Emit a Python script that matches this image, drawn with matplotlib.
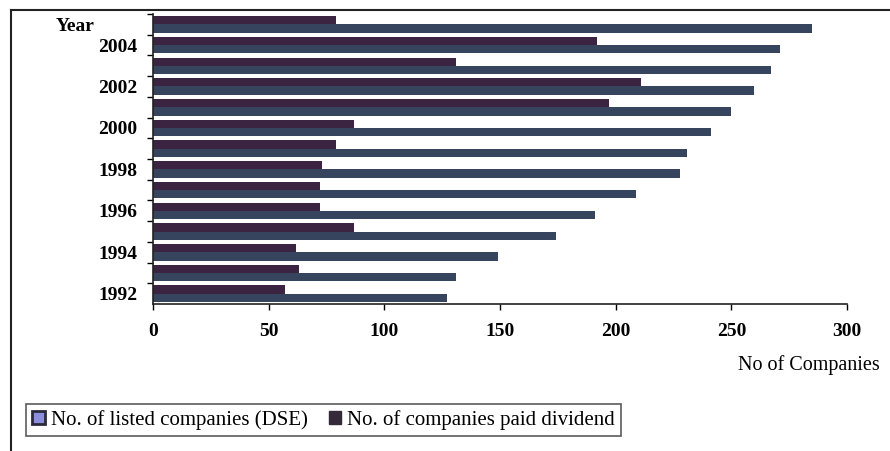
import matplotlib
matplotlib.use("Agg")
import matplotlib.pyplot as plt
import numpy as np
from matplotlib.lines import Line2D
from matplotlib.patches import Patch

years = [1992, 1993, 1994, 1995, 1996, 1997, 1998, 1999, 2000, 2001, 2002, 2003, 2004, 2005]
listed_companies = [127, 131, 149, 174, 191, 209, 228, 231, 241, 250, 260, 267, 271, 285]
dividend_companies = [57, 63, 62, 87, 72, 72, 73, 79, 87, 197, 211, 131, 192, 79]
labelled_years = [1992, 1994, 1996, 1998, 2000, 2002, 2004]
x_ticks = [0, 50, 100, 150, 200, 250, 300]

serif = ["Liberation Serif", "DejaVu Serif"]
listed_color = "#37445e"
dividend_color = "#3a2442"

fig = plt.figure(figsize=(8.9, 4.51), dpi=100)
ax = fig.add_axes([153 / 890, 1 - 304 / 451, 694 / 890, 290 / 451])

y = np.arange(len(years))
h = 0.4
ax.barh(y + h / 2, dividend_companies, height=h, color=dividend_color, label="No. of companies paid dividend")
ax.barh(y - h / 2, listed_companies, height=h, color=listed_color, label="No. of listed companies (DSE)")

ax.set_xlim(0, 300)
ax.set_ylim(-0.5, len(years) - 0.5)

ax.set_xticks(x_ticks)
ax.set_xticklabels([str(v) for v in x_ticks], fontfamily=serif, fontweight="bold", fontsize=14)
ax.tick_params(axis="x", direction="out", length=4, width=1, pad=10)

# category labels at centres, tick marks at category boundaries
label_pos = [years.index(yr) for yr in labelled_years] + [len(years) - 1]
ax.set_yticks(label_pos)
ax.set_yticklabels([str(yr) for yr in labelled_years] + ["Year"],
                   fontfamily=serif, fontweight="bold", fontsize=14)
ax.tick_params(axis="y", which="major", length=0, pad=11)
ax.set_yticks(np.arange(len(years)) + 0.5, minor=True)
ax.tick_params(axis="y", which="minor", direction="out", length=4, width=1)
# shift the top label left like an axis title
ax.get_yticklabels()[-1].set_x(-0.062)

for side in ("top", "right"):
    ax.spines[side].set_visible(False)
for side in ("left", "bottom"):
    ax.spines[side].set_linewidth(1.2)
    ax.spines[side].set_color("#222222")

fig.text(880 / 890, 1 - 365 / 451, "No of Companies", ha="right", va="center",
         fontfamily=serif, fontsize=14.5)

handles = [Patch(facecolor="#8c8ce0", edgecolor="#2a2a3a", linewidth=2),
           Patch(facecolor="#352838", edgecolor="#352838")]
leg = fig.legend(handles, ["No. of listed companies (DSE)", "No. of companies paid dividend"],
                 loc="lower left", bbox_to_anchor=(26 / 890, 1 - 436 / 451), ncol=2,
                 prop={"family": serif, "size": 15}, frameon=True, fancybox=False,
                 handlelength=0.6, handleheight=0.6, handletextpad=0.3, columnspacing=1.0,
                 borderpad=0.3, borderaxespad=0)
leg.get_frame().set_edgecolor("#333333")
leg.get_frame().set_linewidth(1.2)

# outer frame lines
fig.add_artist(Line2D([11 / 890, 11 / 890], [0, 1 - 10 / 451], color="#222222", lw=1.5))
fig.add_artist(Line2D([11 / 890, 1], [1 - 10 / 451, 1 - 10 / 451], color="#222222", lw=1.5))

fig.savefig("out.png", dpi=100)
